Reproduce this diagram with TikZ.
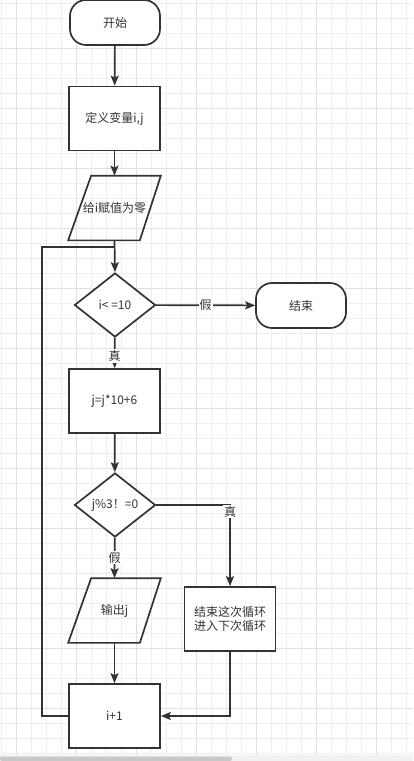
\documentclass[tikz,border=0pt]{standalone}
\usepackage{fontspec}
\setmainfont{Noto Sans CJK SC}
\usepackage{tikz}
\usetikzlibrary{arrows.meta,shapes.geometric}

\begin{document}
\begin{tikzpicture}[x=1pt,y=-1pt,
  line/.style={draw={rgb,255:red,51;green,51;blue,51},line width=1.7pt},
  flow/.style={line,-{Stealth[length=10pt,width=8pt,inset=2pt]}},
  box/.style={line,fill=white,rectangle,minimum width=91pt,minimum height=64pt,inner sep=0pt,
    text={rgb,255:red,51;green,51;blue,51},font=\fontsize{12}{14.5}\selectfont,align=center},
  term/.style={box,rounded corners=16pt,minimum width=90pt,minimum height=45pt},
  cond/.style={box,diamond,minimum width=81pt,minimum height=64pt},
  io/.style={box,draw=none,fill=none,minimum height=63pt},
  tag/.style={fill=white,inner sep=1pt,text={rgb,255:red,51;green,51;blue,51},font=\fontsize{12}{14.5}\selectfont}]
\path[use as bounding box] (0,0) rectangle (413,761);
\path[fill=white,draw=none] (0,0) rectangle (413,761);
% background grid
\foreach \gx in {0,...,27}
  \draw[draw={rgb,255:red,238;green,238;blue,238},line width=1pt] (1.5+15*\gx,0) -- (1.5+15*\gx,755);
\foreach \gy in {0,...,50}
  \draw[draw={rgb,255:red,238;green,238;blue,238},line width=1pt] (0,3+15*\gy) -- (413,3+15*\gy);
\foreach \gx in {0,...,6}
  \draw[draw={rgb,255:red,224;green,224;blue,224},line width=1pt] (16.5+60*\gx,0) -- (16.5+60*\gx,755);
\foreach \gy in {0,...,11}
  \draw[draw={rgb,255:red,224;green,224;blue,224},line width=1pt] (0,48+60*\gy) -- (413,48+60*\gy);
\path[fill={rgb,255:red,241;green,241;blue,241},draw=none] (0,755) rectangle (413,761);
\path[fill={rgb,255:red,200;green,200;blue,200},draw=none,rounded corners=2pt] (0,756.5) rectangle (232,761);

% nodes
\node[term] (start) at (115,22.5) {开始};
\node[box] (vardef) at (114.5,118.5) {定义变量i,j};
\node[io] (init) at (114.5,208) {给i赋值为零};
\node[cond] (test) at (115,305) {i< =10};
\node[term] (stop) at (301,305.5) {结束};
\node[box] (calc) at (114.5,401) {j=j*10+6};
\node[cond] (mod) at (115,505) {j\%3！=0};
\node[io] (print) at (114.5,610.5) {输出j};
\node[box] (skip) at (230,619) {结束这次循环\\进入下次循环};
\node[box] (inc) at (114.5,716) {i+1};
\coordinate (join) at (115,247);

% parallelograms
\draw[line] ([xshift=23pt]init.north west) -- (init.north east) -- ([xshift=-21pt]init.south east) -- (init.south west) -- cycle;
\draw[line] ([xshift=23pt]print.north west) -- (print.north east) -- ([xshift=-21pt]print.south east) -- (print.south west) -- cycle;

% connectors
\draw[flow] (start) -- (vardef);
\draw[flow] (vardef) -- (init);
\draw[flow] (init.south) -- (test.north);
\draw[flow] (test) -- node[tag] {假} (stop);
\draw[flow] (test) -- node[tag,pos=.6] {真} (calc);
\draw[flow] (calc) -- (mod);
\draw[flow] (mod.east) -| node[tag,pos=.54] {真} (skip.north);
\draw[flow] (mod) -- node[tag] {假} (print.north);
\draw[flow] (print.south) -- (inc);
\draw[flow] (skip.south) |- (inc.east);
\draw[line] (inc.west) -- ++(-26,0) |- (join);
\end{tikzpicture}
\end{document}
